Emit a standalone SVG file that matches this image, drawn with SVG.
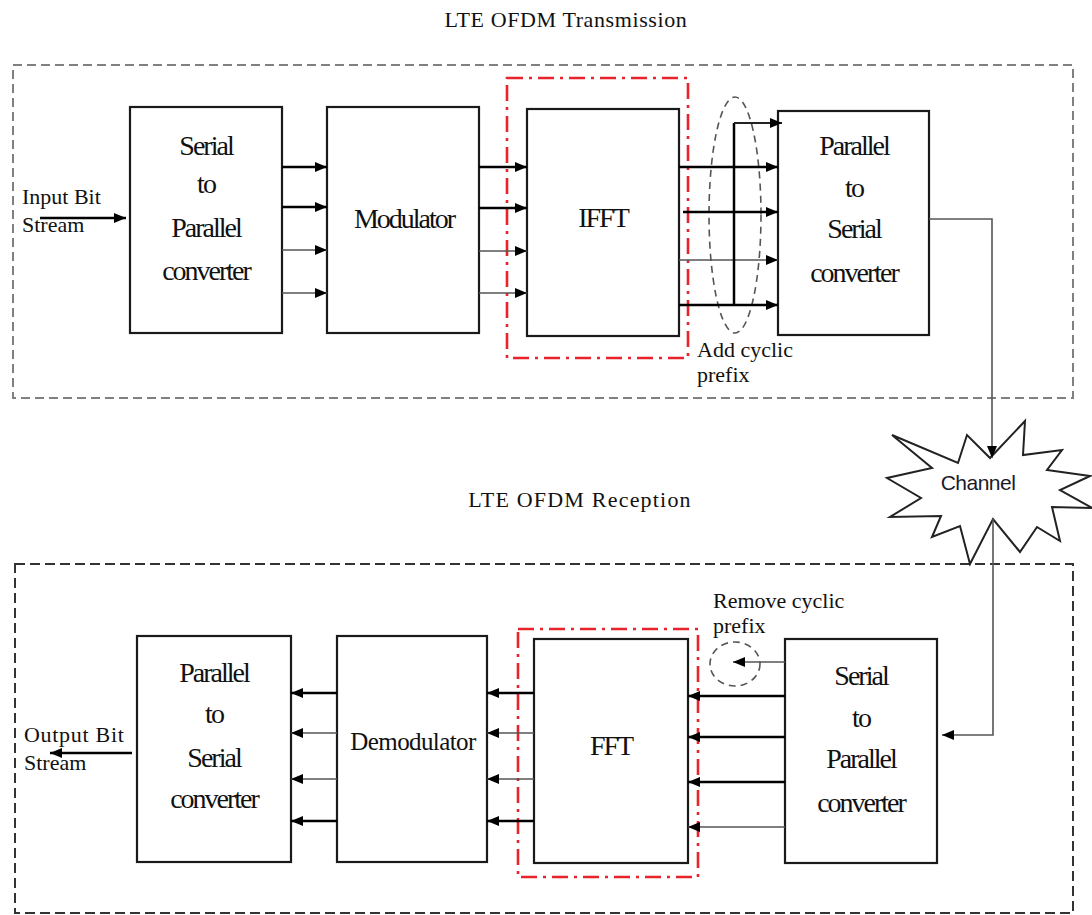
<svg xmlns="http://www.w3.org/2000/svg" width="1092" height="915" viewBox="0 0 1092 915">
<defs>
<marker id="ah" markerUnits="userSpaceOnUse" markerWidth="13" markerHeight="11" refX="12" refY="5" orient="auto">
<path d="M0,0 L12,5 L0,10 z" fill="#000"/>
</marker>
<style>
.box{fill:#fff;stroke:#1a1a1a;stroke-width:2.2}
.bt{font-family:"Liberation Serif","Times New Roman",serif;font-size:28px;letter-spacing:-2px;text-anchor:middle;fill:#111}
.lb{font-family:"Liberation Serif","Times New Roman",serif;font-size:22px;fill:#111}
.ttl{font-family:"Liberation Serif","Times New Roman",serif;font-size:22px;text-anchor:middle;fill:#111;letter-spacing:0.6px}
.thick{stroke:#000;stroke-width:2.5;fill:none}
.thin{stroke:#555;stroke-width:1.6;fill:none}
.arr{marker-end:url(#ah)}
.frameA{fill:none;stroke:#808080;stroke-width:2;stroke-dasharray:9 5}
.frameB{fill:none;stroke:#333;stroke-width:2;stroke-dasharray:10 5}
.red{fill:none;stroke:#e8232b;stroke-width:2.6;stroke-dasharray:16 6 3 6}
.cp{fill:none;stroke:#555;stroke-width:1.6;stroke-dasharray:7 5}
</style>
</defs>

<!-- Frames and titles -->
<g id="tx-frame">
<rect class="frameA" x="13" y="65" width="1060" height="333"/>
<text class="ttl" x="566" y="27">LTE OFDM Transmission</text>
</g>
<g id="rx-frame">
<rect class="frameB" x="15" y="564" width="1058" height="349"/>
<text class="ttl" x="580" y="507" style="letter-spacing:1.2px">LTE OFDM Reception</text>
</g>

<!-- Red dash-dot groupings -->
<g id="ifft-group"><rect class="red" x="507" y="78" width="181" height="280"/></g>
<g id="fft-group"><rect class="red" x="518" y="629" width="180" height="248"/></g>

<!-- Transmission nodes -->
<g id="tx-s2p">
<rect class="box" x="130" y="107" width="152" height="226"/>
<text class="bt" x="206" y="155">Serial</text>
<text class="bt" x="206" y="193">to</text>
<text class="bt" x="206" y="237">Parallel</text>
<text class="bt" x="206" y="280">converter</text>
</g>
<g id="tx-mod">
<rect class="box" x="327" y="107" width="152" height="226"/>
<text class="bt" x="404" y="228">Modulator</text>
</g>
<g id="tx-ifft">
<rect class="box" x="527" y="109" width="152" height="227"/>
<text class="bt" x="603" y="227">IFFT</text>
</g>
<g id="tx-p2s">
<rect class="box" x="778" y="111" width="151" height="224"/>
<text class="bt" x="854" y="155">Parallel</text>
<text class="bt" x="854" y="197">to</text>
<text class="bt" x="854" y="238">Serial</text>
<text class="bt" x="854" y="282">converter</text>
</g>
<g id="add-cp">
<ellipse class="cp" cx="735" cy="215" rx="26" ry="118"/>
<text class="lb" x="697" y="357">Add cyclic</text>
<text class="lb" x="697" y="382">prefix</text>
</g>
<g id="input-label">
<text class="lb" x="22" y="204">Input Bit</text>
<text class="lb" x="22" y="232">Stream</text>
</g>

<!-- Channel -->
<g id="channel">
<polygon points="892,435 958,463 967,435 990,458 1025,421 1023,455 1062,450 1047,470 1090,476 1060,490 1092,508 1052,507 1060,541 1037,527 1020,552 993,519 970,564 960,526 932,537 941,516 890,517 921,498 887,478 932,468" fill="#fff" stroke="#222" stroke-width="2" stroke-linejoin="miter"/>
<text x="978" y="490" style="font-family:'Liberation Sans',Arial,sans-serif;font-size:21px;letter-spacing:-0.5px;text-anchor:middle;fill:#1a1a2a">Channel</text>
</g>

<!-- Reception nodes -->
<g id="rx-p2s">
<rect class="box" x="137" y="636" width="154" height="226"/>
<text class="bt" x="214" y="682">Parallel</text>
<text class="bt" x="214" y="723">to</text>
<text class="bt" x="214" y="767">Serial</text>
<text class="bt" x="214" y="808">converter</text>
</g>
<g id="rx-demod">
<rect class="box" x="337" y="636" width="150" height="226"/>
<text class="bt" x="413" y="750" style="font-size:25px;letter-spacing:-0.6px">Demodulator</text>
</g>
<g id="rx-fft">
<rect class="box" x="534" y="639" width="154" height="224"/>
<text class="bt" x="611" y="755">FFT</text>
</g>
<g id="rx-s2p">
<rect class="box" x="785" y="639" width="152" height="224"/>
<text class="bt" x="861" y="685">Serial</text>
<text class="bt" x="861" y="727">to</text>
<text class="bt" x="861" y="768">Parallel</text>
<text class="bt" x="861" y="812">converter</text>
</g>
<g id="remove-cp">
<ellipse class="cp" cx="735" cy="664" rx="25" ry="22"/>
<text class="lb" x="713" y="608">Remove cyclic</text>
<text class="lb" x="713" y="633">prefix</text>
</g>
<g id="output-label">
<text class="lb" x="24" y="742" style="letter-spacing:0.7px">Output Bit</text>
<text class="lb" x="24" y="770">Stream</text>
</g>

<!-- Connectors -->
<g id="connectors">
<line class="thick arr" x1="40" y1="218" x2="126" y2="218"/>
<!-- S2P -> Modulator -->
<line class="thick arr" x1="282" y1="167" x2="327" y2="167"/>
<line class="thick arr" x1="282" y1="207" x2="327" y2="207"/>
<line class="thin arr" x1="282" y1="250" x2="327" y2="250"/>
<line class="thin arr" x1="282" y1="293" x2="327" y2="293"/>
<!-- Modulator -> IFFT -->
<line class="thick arr" x1="479" y1="167" x2="527" y2="167"/>
<line class="thick arr" x1="479" y1="208" x2="527" y2="208"/>
<line class="thin arr" x1="479" y1="251" x2="527" y2="251"/>
<line class="thin arr" x1="479" y1="293" x2="527" y2="293"/>
<!-- IFFT -> P2S with cyclic prefix -->
<line class="thick arr" x1="679" y1="167" x2="778" y2="167"/>
<line class="thick arr" x1="683" y1="212" x2="778" y2="212"/>
<line class="thin arr" x1="679" y1="260" x2="778" y2="260"/>
<line class="thick arr" x1="679" y1="305" x2="778" y2="305"/>
<polyline class="thick" points="734,305 734,123"/>
<line class="thin arr" x1="734" y1="123" x2="782" y2="123" style="stroke:#222;stroke-width:2"/>
<!-- P2S -> Channel -->
<polyline class="thin arr" points="929,219 992,219 992,458"/>
<!-- Channel -> S2P -->
<polyline class="thin arr" points="993,519 993,735 942,735"/>
<!-- S2P -> FFT -->
<line class="thin arr" x1="785" y1="662" x2="733" y2="662"/>
<line class="thick arr" x1="785" y1="696" x2="688" y2="696"/>
<line class="thick arr" x1="785" y1="737" x2="688" y2="737"/>
<line class="thick arr" x1="785" y1="782" x2="688" y2="782"/>
<line class="thin arr" x1="785" y1="827" x2="688" y2="827"/>
<!-- FFT -> Demodulator -->
<line class="thick arr" x1="534" y1="693" x2="487" y2="693"/>
<line class="thin arr" x1="534" y1="733" x2="487" y2="733"/>
<line class="thin arr" x1="534" y1="779" x2="487" y2="779"/>
<line class="thick arr" x1="534" y1="821" x2="487" y2="821"/>
<!-- Demodulator -> P2S -->
<line class="thick arr" x1="337" y1="693" x2="291" y2="693"/>
<line class="thin arr" x1="337" y1="733" x2="291" y2="733"/>
<line class="thin arr" x1="337" y1="779" x2="291" y2="779"/>
<line class="thick arr" x1="337" y1="821" x2="291" y2="821"/>
<!-- Output -->
<line class="thick arr" x1="132" y1="753" x2="50" y2="753"/>
</g>
</svg>
